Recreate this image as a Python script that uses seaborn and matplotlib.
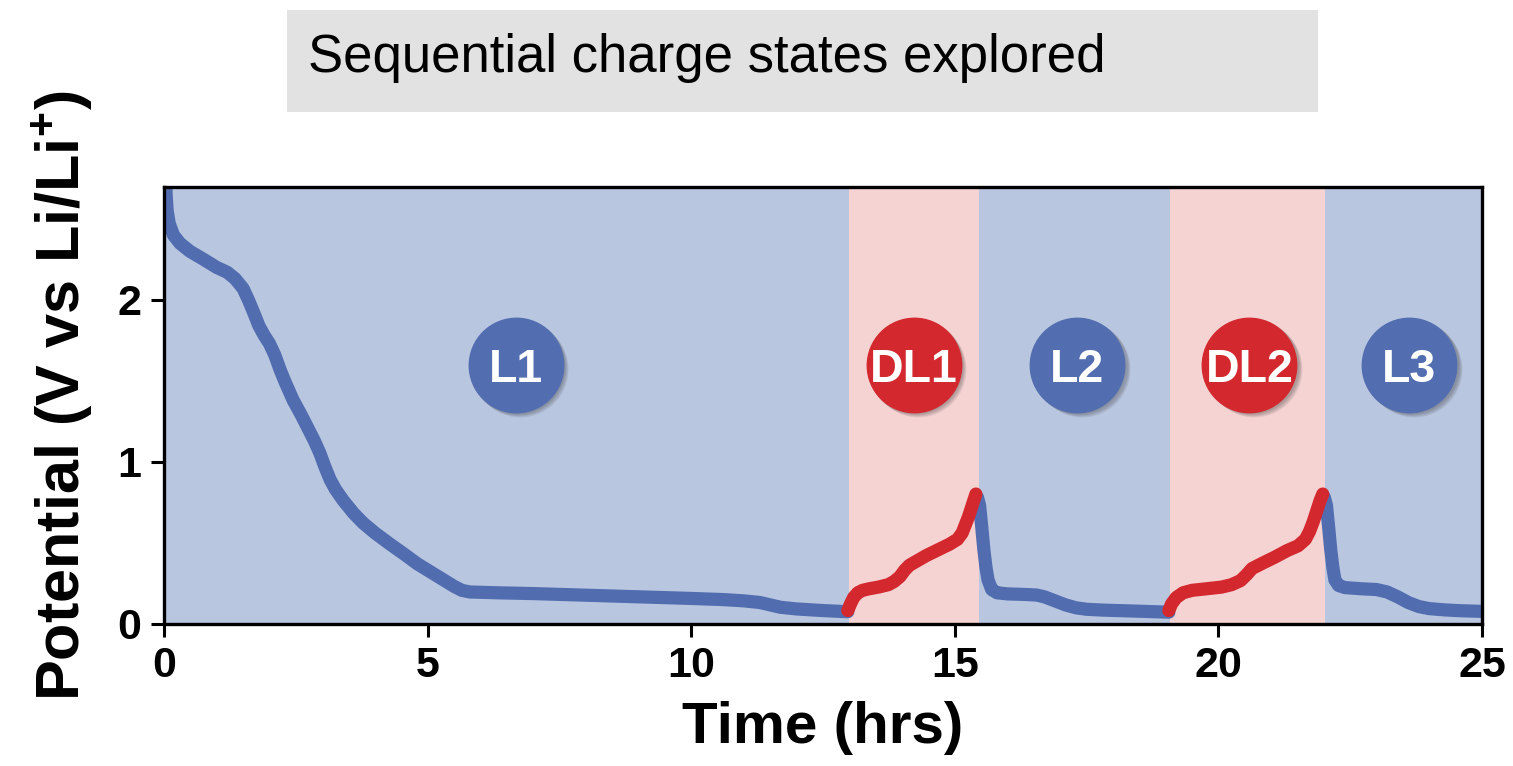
import numpy as np
import pandas as pd
import matplotlib
matplotlib.use("Agg")
import matplotlib.pyplot as plt
import matplotlib.transforms as mtransforms
from matplotlib.patches import Rectangle
import seaborn as sns

# ---- data -------------------------------------------------------------
# lithiation L1
l1_time = [0.03, 0.04, 0.06, 0.10, 0.18, 0.30, 0.49, 0.75, 1.00, 1.20, 1.35,
           1.50, 1.60, 1.69, 1.80, 1.90, 2.00, 2.10, 2.20, 2.30, 2.45, 2.60,
           2.71, 2.85, 2.96, 3.05, 3.15, 3.25, 3.40, 3.60, 3.78, 4.00, 4.29,
           4.55, 4.80, 5.05, 5.30, 5.50, 5.65, 5.80, 6.30, 7.0, 8.0, 9.0,
           10.0, 10.6, 11.0, 11.3, 11.5, 11.7, 12.0, 12.5, 12.97]
l1_volt = [2.85, 2.65, 2.55, 2.47, 2.40, 2.35, 2.30, 2.25, 2.20, 2.17, 2.13,
           2.07, 2.00, 1.93, 1.84, 1.78, 1.73, 1.66, 1.57, 1.49, 1.38, 1.29,
           1.22, 1.13, 1.05, 0.97, 0.89, 0.83, 0.76, 0.68, 0.62, 0.56, 0.49,
           0.43, 0.37, 0.32, 0.27, 0.23, 0.205, 0.195, 0.19, 0.185, 0.175,
           0.165, 0.155, 0.148, 0.14, 0.13, 0.115, 0.10, 0.09, 0.08, 0.073]
# delithiation DL1
dl1_time = [12.97, 13.02, 13.08, 13.16, 13.25, 13.38, 13.55, 13.74, 13.85,
            13.96, 14.05, 14.14, 14.30, 14.46, 14.68, 14.90, 15.05, 15.14,
            15.20, 15.26, 15.33, 15.40]
dl1_volt = [0.08, 0.12, 0.16, 0.19, 0.205, 0.215, 0.225, 0.24, 0.26, 0.29,
            0.33, 0.36, 0.39, 0.42, 0.455, 0.49, 0.52, 0.56, 0.61, 0.66,
            0.73, 0.80]
# lithiation L2
l2_time = [15.43, 15.47, 15.51, 15.55, 15.59, 15.63, 15.70, 15.80, 16.0, 16.3,
           16.55, 16.7, 16.9, 17.1, 17.3, 17.5, 17.8, 18.2, 18.6, 19.06]
l2_volt = [0.78, 0.73, 0.60, 0.46, 0.35, 0.27, 0.21, 0.19, 0.183, 0.18,
           0.176, 0.165, 0.14, 0.115, 0.097, 0.088, 0.083, 0.079, 0.075, 0.07]
# delithiation DL2
dl2_time = [19.06, 19.11, 19.20, 19.33, 19.50, 19.70, 20.06, 20.25, 20.42,
            20.53, 20.64, 20.85, 21.07, 21.30, 21.51, 21.65, 21.73, 21.80,
            21.87, 21.93, 21.98]
dl2_volt = [0.08, 0.12, 0.16, 0.19, 0.205, 0.212, 0.225, 0.24, 0.265, 0.30,
            0.34, 0.375, 0.41, 0.45, 0.48, 0.52, 0.57, 0.63, 0.70, 0.76, 0.80]
# lithiation L3
l3_time = [22.01, 22.05, 22.09, 22.13, 22.17, 22.21, 22.28, 22.4, 22.7, 23.0,
           23.2, 23.4, 23.6, 23.8, 24.0, 24.3, 24.6, 25.0]
l3_volt = [0.78, 0.73, 0.60, 0.46, 0.35, 0.27, 0.235, 0.222, 0.215, 0.21,
           0.195, 0.165, 0.13, 0.105, 0.092, 0.084, 0.079, 0.075]

step_names = ["L1", "DL1", "L2", "DL2", "L3"]
step_kind = ["lith", "delith", "lith", "delith", "lith"]
band_edges = [0, 13.0, 15.45, 19.08, 22.03, 25]
badge_time = [6.67, 14.22, 17.32, 20.59, 23.62]
badge_volt = 1.6

x_ticks = [0, 5, 10, 15, 20, 25]
y_ticks = [0, 1, 2]
title_text = "Sequential charge states explored"

# ---- styling ----------------------------------------------------------
sns.set_theme(style="ticks")
plt.rcParams["font.family"] = ["Liberation Sans", "DejaVu Sans"]
plt.rcParams["mathtext.fontset"] = "custom"
plt.rcParams["mathtext.rm"] = "Liberation Sans"
plt.rcParams["mathtext.bf"] = "Liberation Sans:bold"
for key in ["text.color", "axes.labelcolor", "xtick.color", "ytick.color",
            "xtick.labelcolor", "ytick.labelcolor"]:
    plt.rcParams[key] = "black"

line_colors = {"lith": "#516DB0", "delith": "#D2282E"}
band_colors = {"lith": "#B9C6E0", "delith": "#F6D3D3"}
badge_colors = {"lith": "#526EB0", "delith": "#D2282E"}

segments = [(l1_time, l1_volt), (dl1_time, dl1_volt), (l2_time, l2_volt),
            (dl2_time, dl2_volt), (l3_time, l3_volt)]
df = pd.concat(
    [pd.DataFrame({"time": t, "potential": v, "step": name})
     for (t, v), name in zip(segments, step_names)],
    ignore_index=True,
)
palette = {n: line_colors[k] for n, k in zip(step_names, step_kind)}
# lithiation traces first, delithiation traces drawn on top of them
draw_order = ([n for n, k in zip(step_names, step_kind) if k == "lith"]
              + [n for n, k in zip(step_names, step_kind) if k == "delith"])

fig = plt.figure(figsize=(15.13, 7.66), dpi=100)
ax = fig.add_axes([0.1084, 0.186, 0.9795 - 0.1084, 0.7565 - 0.186])

# shaded charge-state bands
for i, kind in enumerate(step_kind):
    ax.axvspan(band_edges[i], band_edges[i + 1], color=band_colors[kind],
               lw=0, zorder=0)

sns.lineplot(data=df, x="time", y="potential", hue="step",
             hue_order=draw_order, palette=palette, estimator=None,
             sort=False, legend=False, linewidth=9.5, ax=ax,
             solid_capstyle="round", solid_joinstyle="round", zorder=3)

# round badges with a soft drop shadow toward the lower right
for name, kind, t in zip(step_names, step_kind, badge_time):
    for off in [1.0, 1.8, 2.6, 3.4]:
        tr = mtransforms.offset_copy(ax.transData, fig=fig, x=off, y=-off,
                                     units="points")
        ax.scatter([t], [badge_volt], s=69 ** 2, color="#303030",
                   alpha=0.10, lw=0, transform=tr, zorder=4)
    ax.scatter([t], [badge_volt], s=69 ** 2, color=badge_colors[kind], lw=0,
               zorder=5)
    ax.text(t, badge_volt, name, color="white", fontsize=33.5,
            fontweight="bold", ha="center", va="center_baseline", zorder=6)

ax.set_xlim(0, 25)
ax.set_ylim(0, 2.7)
ax.set_xticks(x_ticks)
ax.set_yticks(y_ticks)
ax.tick_params(axis="both", direction="out", length=9.5, width=2.2,
               labelsize=31, pad=7, color="black")
for lab in ax.get_xticklabels() + ax.get_yticklabels():
    lab.set_fontweight("bold")
for sp in ax.spines.values():
    sp.set_visible(True)
    sp.set_linewidth(2.4)
    sp.set_color("black")
    sp.set_zorder(7)

ax.set_xlabel("Time (hrs)", fontsize=42, fontweight="bold")
ax.set_ylabel(r"Potential (V vs Li/Li$^{\mathbf{+}}$)", fontsize=44,
              fontweight="bold")
ax.xaxis.set_label_coords(0.5, -0.178)
ax.yaxis.set_label_coords(-0.052, 0.522)

# header box
fig.patches.append(Rectangle((287 / 1513, 1 - 111.5 / 766), 1031 / 1513,
                             101.5 / 766, transform=fig.transFigure,
                             facecolor="#E2E2E2", edgecolor="none"))
fig.text(308 / 1513, 1 - 71.7 / 766, title_text, fontsize=38,
         ha="left", va="baseline", color="black")

fig.savefig("out.png", dpi=100)
